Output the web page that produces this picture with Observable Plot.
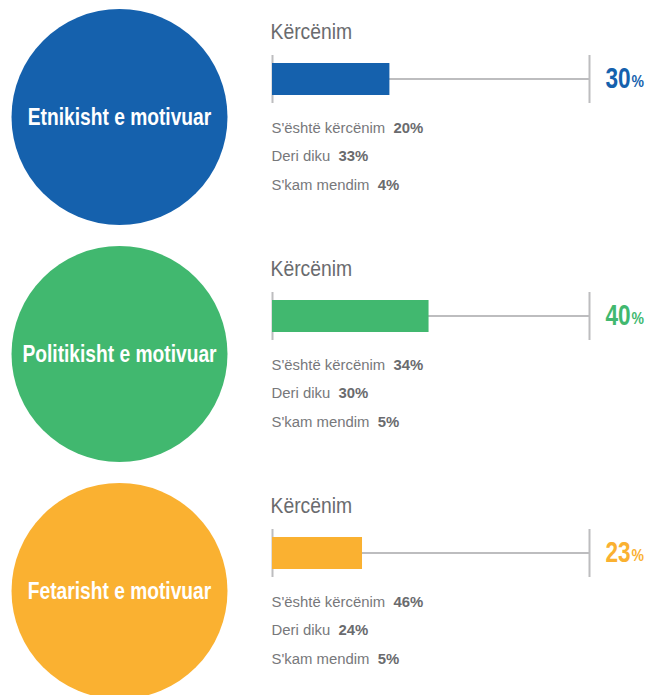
<!DOCTYPE html>
<html>
<head>
<meta charset="utf-8">
<script src="https://cdn.jsdelivr.net/npm/d3@7"></script>
<script src="https://cdn.jsdelivr.net/npm/@observablehq/plot@0.6"></script>
<style>
  html, body { margin: 0; padding: 0; background: #fff; }
  #chart svg { display: block; }
</style>
</head>
<body>
<div id="chart"></div>
<script>
// ---- data ----
const categories = ["Etnikisht e motivuar", "Politikisht e motivuar", "Fetarisht e motivuar"];
const colors = ["#1561ad", "#41b86f", "#fab131"];
const barTitle = "Kërcënim";
const threat = [30, 40, 23];            // "Kërcënim"
const notThreat = [20, 34, 46];         // "S'është kërcënim"
const somewhat = [33, 30, 24];          // "Deri diku"
const noOpinion = [4, 5, 5];            // "S'kam mendim"
const subLabels = ["S'është kërcënim", "Deri diku", "S'kam mendim"];
const axisMax = 81;

const panels = categories.map((c, i) => ({
  category: c,
  color: colors[i],
  threat: threat[i],
  sub: [notThreat[i], somewhat[i], noOpinion[i]]
}));

const FONT = "'Liberation Sans', Arial, sans-serif";
const GRAY = "#77787b";
const GRAY_DARK = "#6a6b6e";
const TRACK = "#bdbdbf";

// font sizes (unique per text kind) and horizontal condensing factor per kind
const SZ_TITLE = 21.5, SZ_CIRCLE = 24, SZ_SUB = 15.5, SZ_PCT = 29, SZ_PCTSIGN = 16.5;
const condense = { [SZ_TITLE]: 0.9, [SZ_CIRCLE]: 0.8, [SZ_SUB]: 0.96, [SZ_PCT]: 0.78, [SZ_PCTSIGN]: 0.85 };

const subLine = (k, dy) => Plot.text(panels, {
  text: d => `${subLabels[k]}  |${d.sub[k]}%`,
  frameAnchor: "top-left", textAnchor: "start", lineAnchor: "middle",
  dx: -1, dy, fontSize: SZ_SUB, fill: GRAY, fontFamily: FONT
});

const chart = Plot.plot({
  width: 648,
  height: 695,
  marginLeft: 272,
  marginRight: 59,
  marginTop: 0,
  marginBottom: 0,
  x: { domain: [0, axisMax], axis: null },
  fy: { domain: categories, axis: null, range: [0, 711], padding: 0 },
  facet: { data: panels, y: "category" },
  marks: [
    // circles with category labels
    Plot.dot(panels, { frameAnchor: "left", dx: -153, dy: -2, r: 108, fill: d => d.color, stroke: null }),
    Plot.text(panels, { text: "category", frameAnchor: "left", dx: -153, dy: -2, textAnchor: "middle", lineAnchor: "middle",
      fill: "white", fontWeight: "bold", fontSize: SZ_CIRCLE, fontFamily: FONT }),
    // title
    Plot.text(panels, { text: d => barTitle, frameAnchor: "top-left", textAnchor: "start", lineAnchor: "middle",
      dx: -2, dy: 32, fontSize: SZ_TITLE, fill: GRAY_DARK, fontFamily: FONT }),
    // track
    Plot.barX(panels, { x1: d => 0, x2: d => axisMax, insetTop: 78, insetBottom: 157, fill: TRACK }),
    Plot.ruleX(panels, { x: d => 0, insetTop: 55, insetBottom: 134, stroke: TRACK, strokeWidth: 2 }),
    Plot.ruleX(panels, { x: d => axisMax, insetTop: 55, insetBottom: 134, stroke: TRACK, strokeWidth: 2 }),
    // value bar
    Plot.barX(panels, { x: "threat", fill: d => d.color, insetTop: 63, insetBottom: 142 }),
    // big percentage (number + small % sign)
    Plot.text(panels, { text: d => `${d.threat}`, frameAnchor: "top-right", textAnchor: "start", lineAnchor: "middle",
      dx: 16, dy: 78, fontSize: SZ_PCT, fontWeight: "bold", fill: d => d.color, fontFamily: FONT }),
    Plot.text(panels, { text: d => "%", frameAnchor: "top-right", textAnchor: "start", lineAnchor: "middle",
      dx: 42, dy: 81, fontSize: SZ_PCTSIGN, fontWeight: "bold", fill: d => d.color, fontFamily: FONT }),
    // sub lines
    subLine(0, 128),
    subLine(1, 156),
    subLine(2, 185)
  ]
});

document.getElementById("chart").append(chart);

// split "label|value" into styled tspans, then condense glyphs horizontally
const svg = d3.select(chart);
svg.selectAll("text").each(function () {
  const txt = this.textContent;
  if (!txt.includes("|")) return;
  const [a, b] = txt.split("|");
  const t = d3.select(this).text("");
  t.append("tspan").text(a);
  t.append("tspan").attr("font-weight", "bold").attr("fill", GRAY_DARK).text(b);
});
svg.selectAll("text").style("white-space", "pre");
svg.selectAll("text").each(function () {
  const g = this.closest("g[font-size]");
  const fs = g ? +g.getAttribute("font-size") : NaN;
  const f = condense[fs];
  if (!f) return;
  const tr = this.getAttribute("transform");
  if (tr) {
    this.setAttribute("transform", `${tr} scale(${f},1)`);
  } else {
    const x = +(this.getAttribute("x") || 0), y = +(this.getAttribute("y") || 0);
    this.removeAttribute("x");
    this.removeAttribute("y");
    this.setAttribute("transform", `translate(${x},${y}) scale(${f},1)`);
  }
});
</script>
</body>
</html>
